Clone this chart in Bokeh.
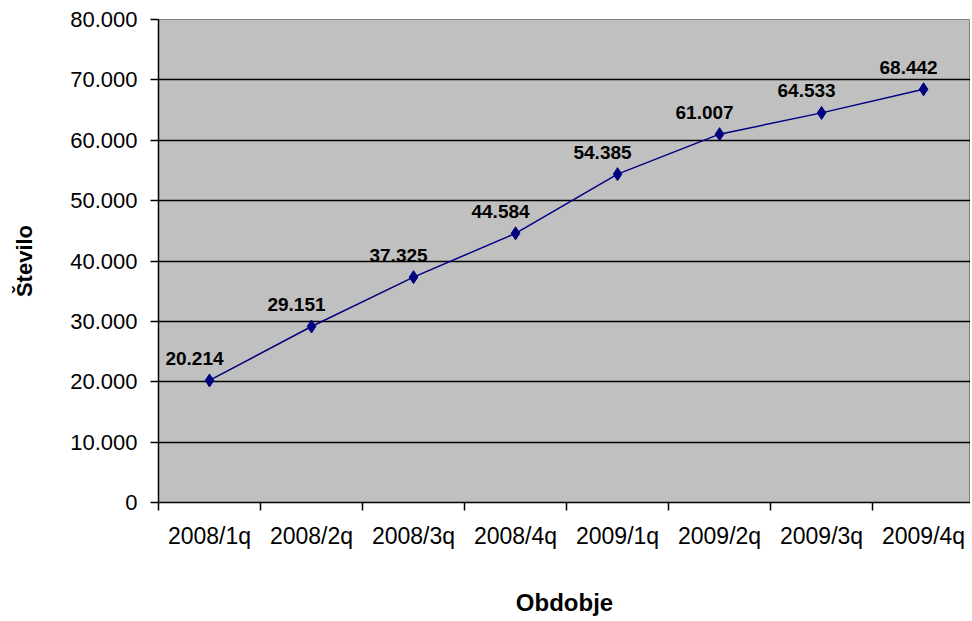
from bokeh.plotting import figure
from bokeh.models import FixedTicker, Range1d, CustomJSTickFormatter
from bokeh.core.properties import value
from bokeh.embed import file_html
from bokeh.resources import INLINE

categories = ["2008/1q", "2008/2q", "2008/3q", "2008/4q",
              "2009/1q", "2009/2q", "2009/3q", "2009/4q"]
values = [20214, 29151, 37325, 44584, 54385, 61007, 64533, 68442]
value_labels = ["20.214", "29.151", "37.325", "44.584",
                "54.385", "61.007", "64.533", "68.442"]
y_ticks = [0, 10000, 20000, 30000, 40000, 50000, 60000, 70000, 80000]
y_tick_labels = ["0", "10.000", "20.000", "30.000", "40.000",
                 "50.000", "60.000", "70.000", "80.000"]

FONT = "Liberation Sans"
NAVY = "#000080"

x_pos = [i + 0.5 for i in range(len(categories))]
boundaries = list(range(len(categories) + 1))

p = figure(width=970, height=619,
           x_range=Range1d(0, 7.96), y_range=Range1d(0, 80000),
           output_backend="svg", toolbar_location=None,
           min_border_left=158, min_border_right=0,
           min_border_top=19, min_border_bottom=117)

p.background_fill_color = "#C0C0C0"
p.border_fill_color = "white"
p.outline_line_color = "#808080"
p.outline_line_width = 1

p.xgrid.visible = False
p.ygrid.grid_line_color = "black"
p.ygrid.grid_line_width = 1.5

# x axis: labels at category centres, ticks at boundaries
xa = p.xaxis[0]
xa.ticker = FixedTicker(ticks=x_pos, minor_ticks=boundaries)
xa.formatter = CustomJSTickFormatter(args=dict(cat_labels=categories),
                                     code="return cat_labels[Math.floor(tick)];")
xa.major_tick_out = 0
xa.major_tick_in = 0
xa.minor_tick_out = 8
xa.minor_tick_in = 0
xa.minor_tick_line_color = "black"
xa.minor_tick_line_width = 1.5
xa.axis_line_color = "black"
xa.axis_line_width = 1.5
xa.major_label_text_font = FONT
xa.major_label_text_font_size = "23px"
xa.major_label_text_color = "black"
xa.major_label_standoff = 12
xa.axis_label = "Obdobje"
xa.axis_label_text_font = FONT
xa.axis_label_text_font_size = "24px"
xa.axis_label_text_font_style = "bold"
xa.axis_label_text_color = "black"
xa.axis_label_standoff = 37

ya = p.yaxis[0]
ya.ticker = FixedTicker(ticks=y_ticks)
ya.formatter = CustomJSTickFormatter(args=dict(tick_vals=y_ticks, tick_text=y_tick_labels),
                                     code="return tick_text[tick_vals.indexOf(tick)];")
ya.major_tick_out = 8
ya.major_tick_in = 0
ya.minor_tick_out = 0
ya.minor_tick_in = 0
ya.major_tick_line_color = "black"
ya.major_tick_line_width = 1.5
ya.axis_line_color = "black"
ya.axis_line_width = 1.5
ya.major_label_text_font = FONT
ya.major_label_text_font_size = "22px"
ya.major_label_text_color = "black"
ya.major_label_standoff = 13
ya.axis_label = "Število"
ya.axis_label_text_font = FONT
ya.axis_label_text_font_size = "22px"
ya.axis_label_text_font_style = "bold"
ya.axis_label_text_color = "black"
ya.axis_label_standoff = 30

p.line(x_pos, values, line_color=NAVY, line_width=1.5)
p.scatter(x_pos, values, marker="diamond", size=13, color=NAVY)
p.text(x_pos, values, text=value_labels, x_offset=-15, y_offset=-22,
       text_align="center", text_baseline="alphabetic",
       text_font=value(FONT), text_font_style="bold",
       text_font_size="19px", text_color="black")

open("out.html", "w").write(file_html(p, INLINE))
